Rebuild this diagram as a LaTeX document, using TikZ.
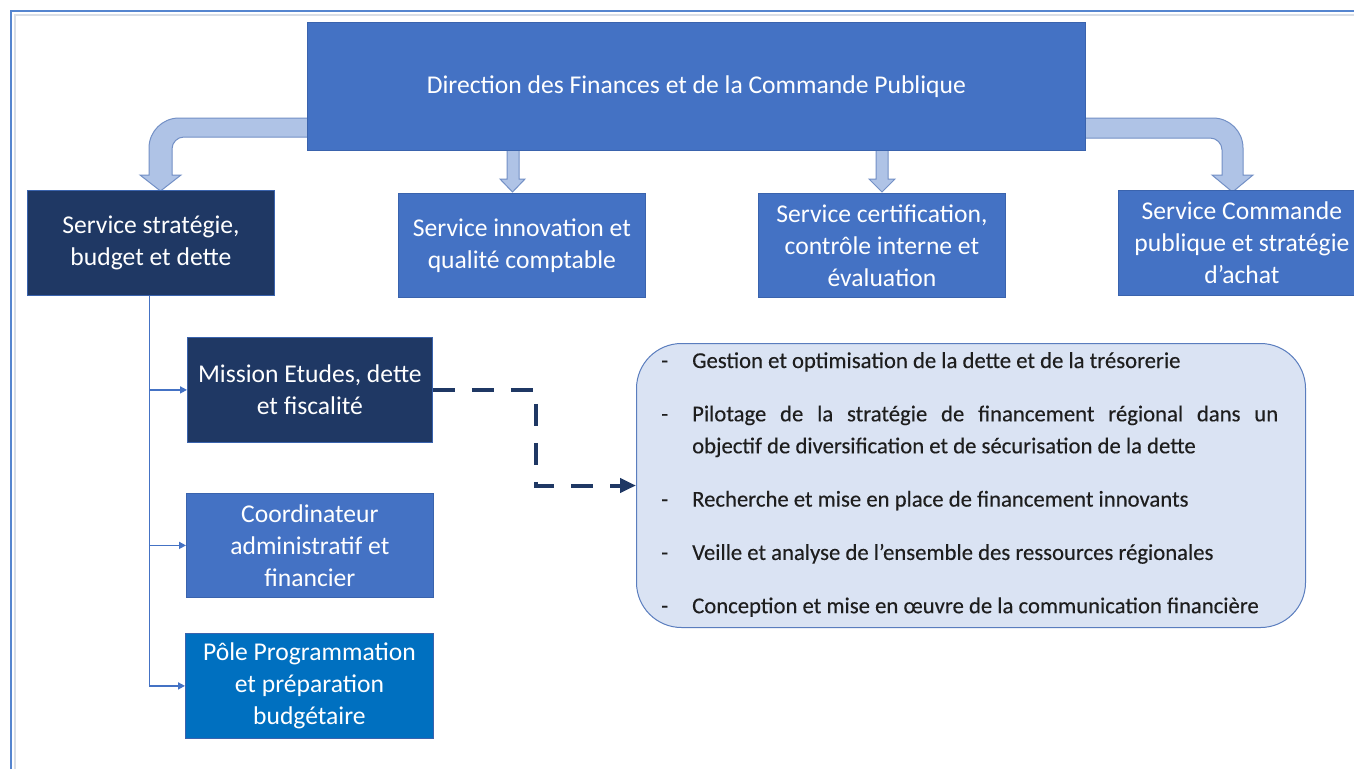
\documentclass[tikz,border=0pt]{standalone}
\usepackage{fontspec}
\setmainfont{Carlito}
\newfontfamily\bulletfont[FakeBold=0.3]{Carlito}
\usetikzlibrary{arrows.meta}
\definecolor{mainblue}{HTML}{4472C4}
\definecolor{navy}{HTML}{1F3864}
\definecolor{poleblue}{HTML}{0070C0}
\definecolor{arrowfill}{HTML}{AFC3E6}
\definecolor{arrowedge}{HTML}{7390C6}
\definecolor{bulletfill}{HTML}{DAE3F3}
\definecolor{bulletedge}{HTML}{5A7DBE}
\definecolor{boxedge}{HTML}{3A63AD}
\definecolor{frameblue}{HTML}{5585CF}
\definecolor{framegray}{HTML}{D9DEE6}
\definecolor{textgray}{HTML}{1E1E1E}
\begin{document}
\begin{tikzpicture}[x=1pt,y=-1pt,
  orgbox/.style={rectangle, draw=boxedge, line width=0.8pt, text=white, align=center,
    inner sep=0pt, font=\fontsize{25.6}{32}\selectfont, anchor=north west,
    minimum width=247pt, minimum height=105pt},
  blockarrow/.style={fill=arrowfill, draw=arrowedge, line width=1pt, line join=miter},
  link/.style={draw=mainblue, line width=1.6pt, -{Triangle[length=7pt,width=7pt]}},
  dashlink/.style={draw=navy, line width=4pt, dash pattern=on 22pt off 17pt,
    -{Triangle[length=16pt,width=14pt]}},
  bulletbox/.style={draw=bulletedge, fill=bulletfill, line width=1pt, rounded corners=45pt,
    anchor=north west, minimum width=669pt, minimum height=284pt, inner sep=0pt}]
\useasboundingbox (0,0) rectangle (1354,769);
\clip (0,0) rectangle (1354,769);
\fill[white] (0,0) rectangle (1354,769);
% frame
\draw[framegray, line width=2pt] (14.5,769) -- (14.5,14.5) -- (1354,14.5);
\draw[frameblue, line width=2pt] (11,769) -- (11,11) -- (1354,11);

% block arrows
\path[blockarrow] (307,118) -- (179,118) arc[start angle=270, end angle=180, radius=30]
  -- (149,175) -- (140,175) -- (160.5,191) -- (181,175) -- (172,175) -- (172,149)
  arc[start angle=180, end angle=270, radius=12] -- (307,137);
\path[blockarrow] (1085,118) -- (1213,118) arc[start angle=270, end angle=360, radius=30]
  -- (1243,175) -- (1253,175) -- (1232.5,192) -- (1212,175) -- (1222,175) -- (1222,150)
  arc[start angle=0, end angle=-90, radius=12] -- (1085,138);
\path[blockarrow] (507,150) -- (507,179) -- (500,179) -- (512.5,192) -- (525,179) -- (519,179) -- (519,150);
\path[blockarrow] (876,150) -- (876,179) -- (869,179) -- (882,192) -- (895,179) -- (888,179) -- (888,150);

% boxes
\node[orgbox, fill=mainblue, minimum width=778pt, minimum height=128pt] (dir) at (307,22)
  {\raisebox{-2pt}{Direction des Finances et de la Commande Publique}};
\node[orgbox, fill=navy] (ssbd) at (27,190) {Service stratégie,\\budget et dette};
\node[orgbox, fill=mainblue, minimum height=104pt] (inno) at (398,193) {Service innovation et\\qualité comptable};
\node[orgbox, fill=mainblue, minimum height=104pt] (certif) at (758,193) {Service certification,\\contrôle interne et\\évaluation};
\node[orgbox, fill=mainblue] (cmd) at (1118,190) {Service Commande\\publique et stratégie\\d’achat};
\node[orgbox, fill=navy, minimum width=245pt] (mission) at (187,337) {Mission Etudes, dette\\et fiscalité};
\node[orgbox, fill=mainblue, minimum height=104pt] (coord) at (186,493) {Coordinateur\\administratif et\\financier};
\node[orgbox, fill=poleblue, minimum width=248pt] (pole) at (185,633) {Pôle Programmation\\et préparation\\budgétaire};

% bullet box
\node[bulletbox] (bullets) at (636,343) {};
\node[anchor=base west, inner sep=0pt, text=textgray, font=\bulletfont\fontsize{22.7}{32}\selectfont] (btext) at (692,368)
  {\vtop{\hsize=586pt\parindent=0pt\parskip=21.3pt\baselineskip=32pt\hyphenpenalty=10000\exhyphenpenalty=10000
  \noindent\llap{-\hspace{24pt}}Gestion et optimisation de la dette et de la trésorerie\par
  \noindent\llap{-\hspace{24pt}}Pilotage de la stratégie de financement régional dans un\linebreak objectif de diversification et de sécurisation de la dette\par
  \noindent\llap{-\hspace{24pt}}Recherche et mise en place de financement innovants\par
  \noindent\llap{-\hspace{24pt}}Veille et analyse de l’ensemble des ressources régionales\par
  \noindent\llap{-\hspace{24pt}}Conception et mise en œuvre de la communication financière\par}};

% connectors
\draw[link] ([xshift=-1.5pt]ssbd.south) |- (mission.west);
\draw[link] ([xshift=-1.5pt]ssbd.south) |- (coord.west);
\draw[link] ([xshift=-1.5pt]ssbd.south) |- (pole.west);
\draw[dashlink] (mission.east) -- ++(103,0) |- (bullets.west);
\end{tikzpicture}
\end{document}
